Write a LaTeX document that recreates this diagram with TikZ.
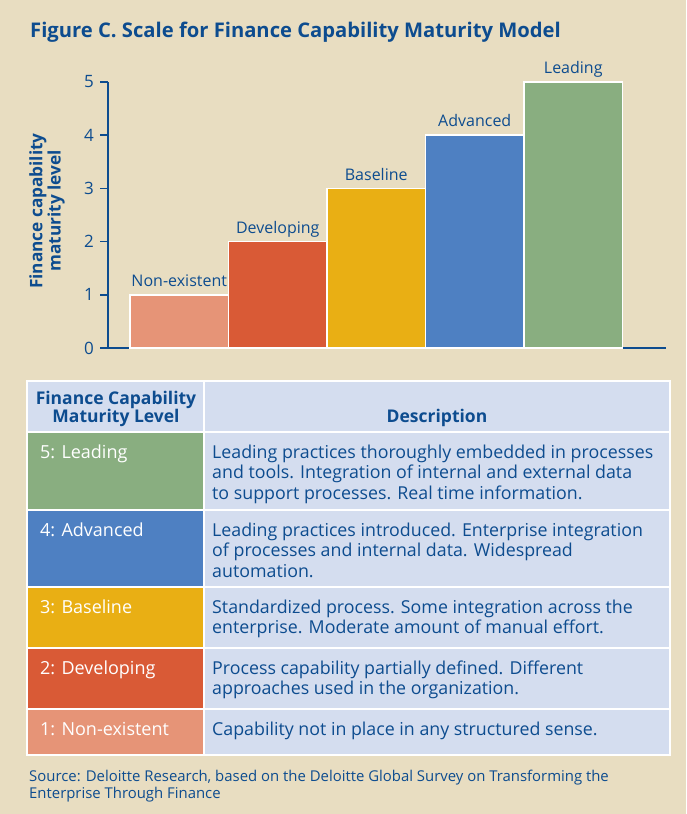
\documentclass[tikz,border=0pt]{standalone}
\usepackage{fontspec}
\setmainfont{Open Sans}
\usetikzlibrary{positioning}

\definecolor{dblue}{HTML}{0D4C8F}
\definecolor{paper}{HTML}{E8DDC1}
\definecolor{cellblue}{HTML}{D4DDEF}
\definecolor{lvlone}{HTML}{E69477}
\definecolor{lvltwo}{HTML}{D95A36}
\definecolor{lvlthree}{HTML}{E9AF14}
\definecolor{lvlfour}{HTML}{4E80C2}
\definecolor{lvlfive}{HTML}{89AE80}

\tikzset{
  bar/.style={draw=white, line width=1.5pt, anchor=south west, minimum width=98.5pt, inner sep=0pt, outer sep=0pt},
  barlabel/.style={text=dblue, font=\fontsize{16}{18}\selectfont, text height=0.72em, text depth=0.22em, inner sep=2pt},
  axisline/.style={draw=dblue, line width=1.6pt},
  ticklabel/.style={text=dblue, font=\fontsize{17}{19}\selectfont, anchor=east, inner sep=0pt},
  cell/.style={draw=white, line width=2pt},
  lvltext/.style={anchor=base west, inner sep=0pt, text=white, font=\fontsize{18}{20.5}\selectfont},
  desctext/.style={anchor=north west, inner sep=0pt, text=dblue, align=left, font=\fontsize{17.8}{20.5}\selectfont},
  headtext/.style={anchor=base, inner sep=0pt, text=dblue, align=center, font=\fontsize{17.5}{18}\selectfont\bfseries},
}

\begin{document}
\begin{tikzpicture}[x=1pt, y=-1pt]
  \fill[paper] (0,0) rectangle (686,814);
  \useasboundingbox (0,0) rectangle (686,814);

  \node[anchor=base west, inner sep=0pt, text=dblue, font=\fontsize{20.2}{22}\selectfont\bfseries] (title) at (30,37)
    {Figure C. Scale for Finance Capability Maturity Model};

  % axes
  \draw[axisline] (108,82) -- (108,348);
  \draw[axisline] (100,348) -- (666,348);
  \foreach \i in {0,...,5} {
    \draw[axisline] (100,348-53.2*\i) -- (108,348-53.2*\i);
    \node[ticklabel] (tick\i) at (94,348-53.2*\i) {\i};
  }
  \node[rotate=90, align=center, text=dblue, font=\fontsize{17.2}{17}\selectfont\bfseries] (ylabel) at (47,211)
    {Finance capability\\maturity level};

  % bars
  \foreach \lvl/\x/\col/\name in {1/130/lvlone/Non-existent, 2/228.5/lvltwo/Developing,
      3/327/lvlthree/Baseline, 4/425.5/lvlfour/Advanced, 5/524/lvlfive/Leading} {
    \node[bar, fill=\col, minimum height=\lvl*53.2pt] (bar\lvl) at (\x,348) {};
    \node[barlabel, above=4pt of bar\lvl.north] (barlab\lvl) {\name};
  }

  % table
  \draw[cell, fill=cellblue] (27,381) rectangle (203.5,432);
  \draw[cell, fill=cellblue] (203.5,381) rectangle (670,432);
  \node[headtext] (headlvl) at (116,422) {Finance Capability\\Maturity Level};
  \node[headtext] (headdesc) at (437,422) {Description};

  \foreach \lvl/\top/\bot/\col/\name/\desc in {
      5/432/510/lvlfive/{5: Leading}/{Leading practices thoroughly embedded in processes\\and tools. Integration of internal and external data\\to support processes. Real time information.},
      4/510/587/lvlfour/{4: Advanced}/{Leading practices introduced. Enterprise integration\\of processes and internal data. Widespread\\automation.},
      3/587/648/lvlthree/{3: Baseline}/{Standardized process. Some integration across the\\enterprise. Moderate amount of manual effort.},
      2/648/709/lvltwo/{2: Developing}/{Process capability partially defined. Different\\approaches used in the organization.},
      1/709/755/lvlone/{1: Non-existent}/{Capability not in place in any structured sense.}} {
    \draw[cell, fill=\col] (27,\top) rectangle (203.5,\bot);
    \draw[cell, fill=cellblue] (203.5,\top) rectangle (670,\bot);
    \node[lvltext] (lvl\lvl) at (40,\top+26) {\name};
    \node[desctext] (desc\lvl) at (212,\top+12.5) {\desc};
  }

  \node[anchor=base west, inner sep=0pt, align=left, text=dblue, font=\fontsize{14.9}{17}\selectfont] (source) at (29,798)
    {Source: Deloitte Research, based on the Deloitte Global Survey on Transforming the\\Enterprise Through Finance};
\end{tikzpicture}
\end{document}
